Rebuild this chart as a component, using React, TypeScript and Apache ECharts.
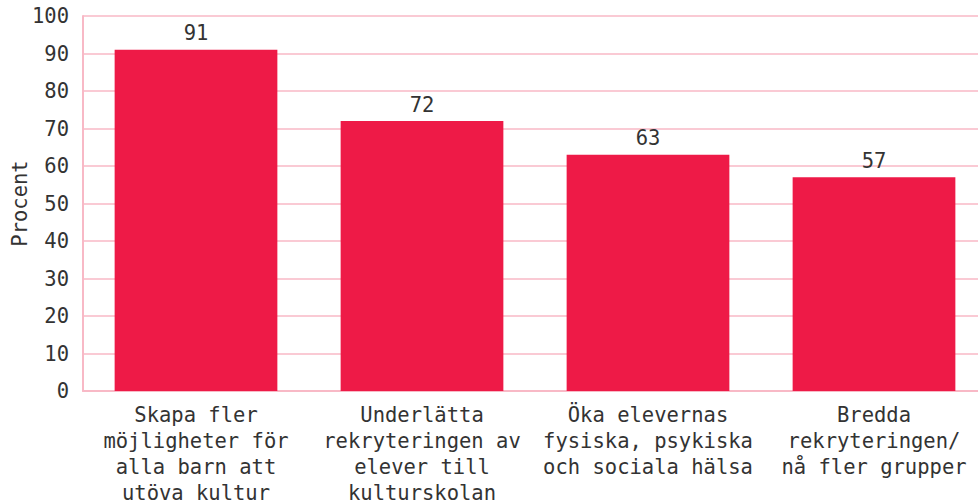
import React, { useEffect, useRef } from "react";
import * as echarts from "echarts";

const categories = [
  "Skapa fler\nmöjligheter för\nalla barn att\nutöva kultur",
  "Underlätta\nrekryteringen av\nelever till\nkulturskolan",
  "Öka elevernas\nfysiska, psykiska\noch sociala hälsa",
  "Bredda\nrekryteringen/\nnå fler grupper",
];
const values = [91, 72, 63, 57];
const yTicks = [0, 10, 20, 30, 40, 50, 60, 70, 80, 90, 100];

const FONT = "'DejaVu Sans Mono', 'Liberation Mono', monospace";
const TEXT = "#333333";
const PINK = "#f8b9c6";
const BAR = "#ee1a47";

export default function App() {
  const ref = useRef<HTMLDivElement>(null);
  useEffect(() => {
    if (!ref.current) return;
    const chart = echarts.init(ref.current, undefined, { renderer: "svg" });
    chart.setOption({
      animation: false,
      grid: {
        left: 83,
        top: 16,
        bottom: 112,
        right: -9,
        containLabel: false,
        outerBoundsMode: "none",
      },
      xAxis: {
        type: "category",
        data: categories,
        axisLine: { lineStyle: { color: PINK, width: 2 } },
        axisTick: { inside: true, length: 9, lineStyle: { color: PINK, width: 1.5 } },
        axisLabel: {
          interval: 0,
          margin: 11,
          fontFamily: FONT,
          fontSize: 20.5,
          lineHeight: 26,
          color: TEXT,
          align: "center",
        },
      },
      yAxis: {
        type: "value",
        min: yTicks[0],
        max: yTicks[yTicks.length - 1],
        interval: 10,
        name: "Procent",
        nameLocation: "middle",
        nameGap: 53,
        nameRotate: 90,
        nameMoveOverlap: false,
        nameTextStyle: { fontFamily: FONT, fontSize: 20.5, color: TEXT },
        axisLine: { show: true, lineStyle: { color: PINK, width: 2 } },
        axisTick: { show: false },
        splitLine: { lineStyle: { color: PINK, width: 1.5 } },
        axisLabel: { margin: 14, fontFamily: FONT, fontSize: 20.5, color: TEXT },
      },
      series: [
        {
          type: "bar",
          data: values,
          barWidth: "72%",
          itemStyle: { color: BAR },
          label: {
            show: true,
            position: "top",
            distance: 6,
            fontFamily: FONT,
            fontSize: 20.5,
            color: TEXT,
          },
        },
      ],
    });
    return () => chart.dispose();
  }, []);
  return <div ref={ref} style={{ width: 978, height: 503, position: "absolute", left: 0, top: 0 }} />;
}
